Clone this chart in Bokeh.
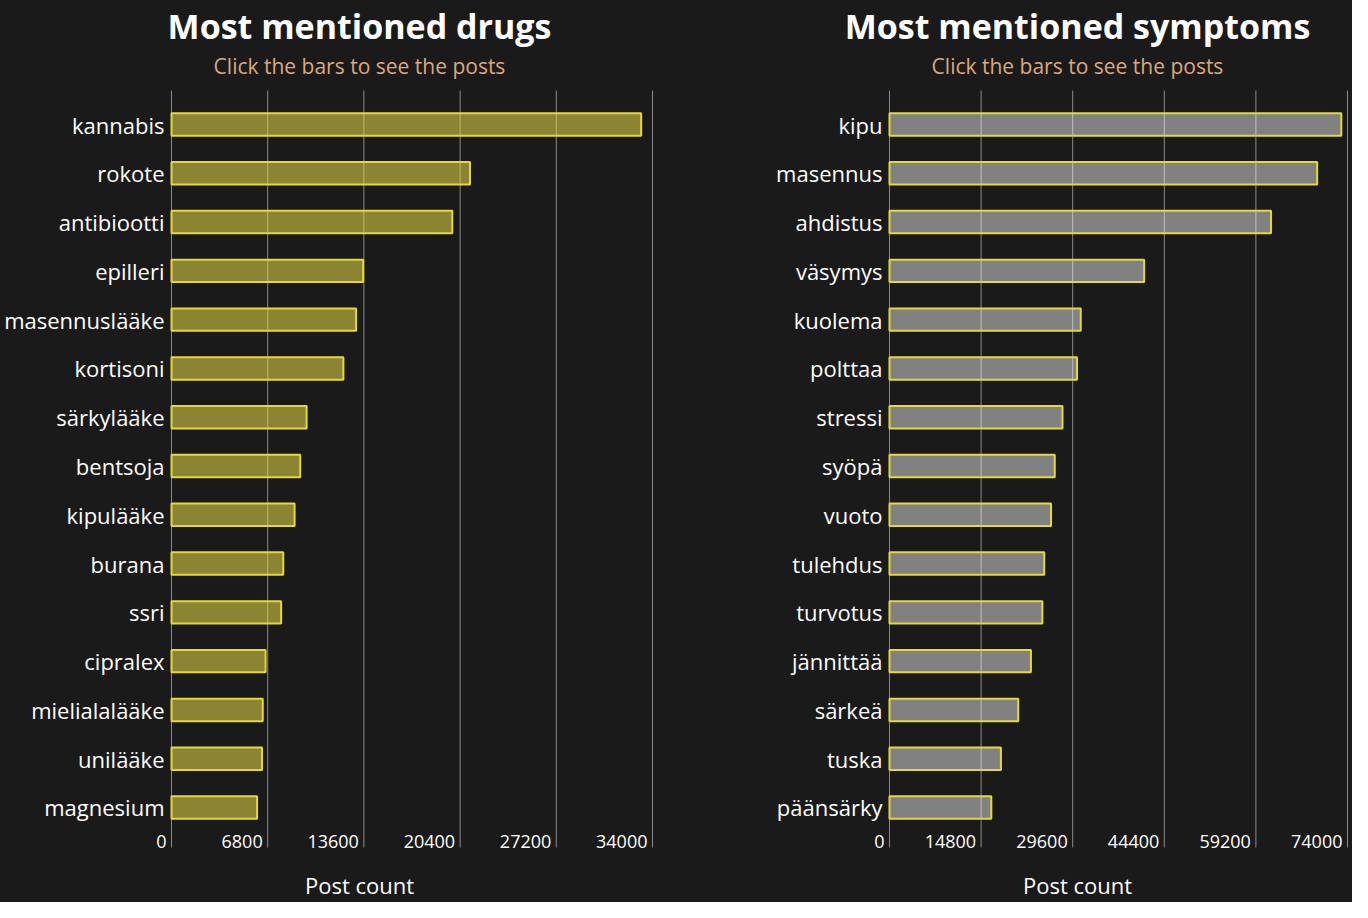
from bokeh.plotting import figure
from bokeh.models import Range1d, ColumnDataSource
from bokeh.layouts import row
from bokeh.embed import file_html
from bokeh.resources import INLINE
from bokeh.core.properties import value

# ---- data ----
drugs = ["kannabis", "rokote", "antibiootti", "epilleri", "masennuslääke", "kortisoni",
         "särkylääke", "bentsoja", "kipulääke", "burana", "ssri", "cipralex",
         "mielialalääke", "unilääke", "magnesium"]
drug_counts = [33200, 21100, 19850, 13550, 13050, 12150, 9550, 9100, 8700, 7900,
               7750, 6650, 6450, 6400, 6050]
drug_ticks = [0, 6800, 13600, 20400, 27200, 34000]

symptoms = ["kipu", "masennus", "ahdistus", "väsymys", "kuolema", "polttaa", "stressi",
            "syöpä", "vuoto", "tulehdus", "turvotus", "jännittää", "särkeä", "tuska",
            "päänsärky"]
symptom_counts = [73000, 69100, 61650, 41150, 30900, 30300, 27950, 26700, 26100,
                  25000, 24700, 22850, 20800, 18000, 16450]
symptom_ticks = [0, 14800, 29600, 44400, 59200, 74000]

titles = ["Most mentioned drugs", "Most mentioned symptoms"]
subtitle = "Click the bars to see the posts"
x_label = "Post count"

# ---- style / layout (pixels) ----
FONT = "Open Sans"
BG = "#1a1a1a"
GRID = "#8a8a8a"
EDGE = "#e4d93c"
SUB = "#dca87a"
H = 902
TOP = 90          # top of the bar area (grid start)
BOT = 847         # bottom of the bar area (grid end)
Y_LO, Y_HI_PAD = -0.82, 0.697


def panel(title_text, cats, counts, ticks, fill, alpha, width, zero_px, axis_px, center_px):
    n = len(cats)
    per_px = ticks[-1] / axis_px
    y_hi = n - 1 + Y_HI_PAD
    row_px = (BOT - TOP) / (y_hi - Y_LO)

    def dx(px):
        return (px - zero_px) * per_px

    def dy(py):
        return y_hi - (py - TOP) / row_px

    ys = list(range(n - 1, -1, -1))
    p = figure(width=width, height=H,
               x_range=Range1d(dx(0), dx(width)),
               y_range=Range1d(dy(H), dy(0)),
               output_backend="svg", toolbar_location=None,
               x_axis_location=None, y_axis_location=None,
               min_border=0,
               background_fill_color=BG, border_fill_color=None,
               outline_line_color=None, styles={"background-color": BG})
    p.xgrid.visible = False
    p.ygrid.visible = False

    # vertical grid lines at the tick values
    gsrc = ColumnDataSource(dict(x=ticks, lab=[str(t) for t in ticks]))
    p.segment(x0="x", x1="x", y0=dy(BOT), y1=dy(TOP), source=gsrc,
              line_color=GRID, line_width=1)

    src = ColumnDataSource(dict(y=ys, cat=cats, count=counts))
    p.hbar(y="y", left=0, right="count", height=0.46, source=src,
           fill_color=fill, fill_alpha=alpha, line_color=EDGE, line_width=2)
    p.text(x=0, y="y", text="cat", source=src, x_offset=-7,
           text_align="right", text_baseline="middle", text_color="white",
           text_font=value(FONT), text_font_size="22px")
    p.text(x="x", y=dy(840.5), text="lab", source=gsrc, x_offset=-5,
           text_align="right", text_baseline="middle", text_color="white",
           text_font=value(FONT), text_font_size="18px")

    def lab(text, center_py, size, style, color):
        p.text(x=[dx(center_px)], y=[dy(center_py)], text=[text],
               text_align="center", text_baseline="middle",
               text_font=value(FONT), text_font_size=size,
               text_font_style=style, text_color=color)

    lab(title_text, 25, "34px", "bold", "white")
    lab(subtitle, 65.5, "21px", "normal", SUB)
    lab(x_label, 884, "22px", "normal", "white")
    return p


p1 = panel(titles[0], drugs, drug_counts, drug_ticks, "#e8dc48", 0.55,
           712, 171, 481, 359)
p2 = panel(titles[1], symptoms, symptom_counts, symptom_ticks, "#ffffff", 0.45,
           640, 177, 458, 365)

layout = row(p1, p2, styles={"background-color": BG})
open("out.html", "w").write(file_html(layout, INLINE))
